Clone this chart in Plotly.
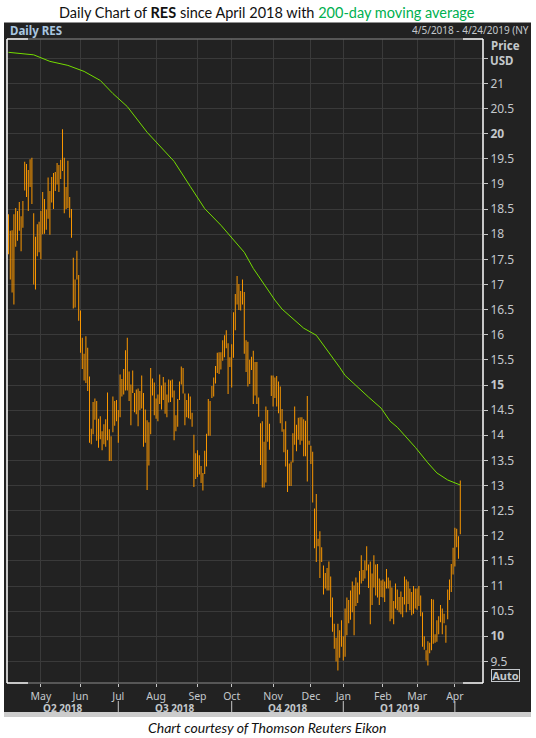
import plotly.graph_objects as go

WIDTH = 536
HEIGHT = 738
PLOT_LEFT = 7
PLOT_RIGHT = 483
PLOT_TOP = 38.5
PLOT_BOTTOM = 683

PANEL = "#222222"
GRID = "#3a3a3a"
LABEL = "#c4c8cc"
# a touch of alpha makes plotly round bar edges instead of growing them to 2px
ORANGE = "rgba(255,154,0,0.99)"
GREEN = "#74dc00"

# daily high / low in USD, one entry per session from 4/5/2018
highs = [
    18.40, 18.07, 18.08, 18.40, 18.52, 18.46, 18.64, 18.36, 18.66, 19.44,
    19.40, 19.28, 19.49, 19.52, 18.42, 17.95, 18.20, 18.25, 18.46, 18.84,
    18.70, 18.49, 19.13, 18.86, 19.14, 19.22, 19.24, 19.42, 19.38, 19.48,
    20.09, 19.52, 18.94, 19.46, 18.74, 18.50, 17.53, 17.10, 17.67, 17.19,
    16.48, 15.94, 15.62, 15.97, 15.74, 15.17, 14.13, 14.66, 14.73, 14.68,
    14.33, 14.38, 14.08, 14.22, 14.32, 14.85, 14.12, 13.98, 14.77, 14.68,
    14.70, 14.50, 15.21, 15.12, 15.32, 15.69, 15.94, 15.27, 15.01, 15.29,
    14.84, 14.91, 14.93, 14.88, 15.19, 14.84, 14.51, 14.30, 14.26, 15.34,
    15.13, 15.05, 14.73, 14.81, 15.21, 14.99, 15.16, 15.05, 14.81, 15.11,
    15.09, 15.11, 14.89, 14.40, 14.72, 15.07, 15.37, 15.34, 14.83, 14.70,
    14.83, 14.77, 14.45, 14.01, 13.64, 13.70, 13.60,
    13.39, 13.25, 13.69, 14.03, 14.72, 14.68, 14.98, 15.15, 15.38, 15.64,
    15.65, 15.65, 15.89, 15.99, 16.09, 15.83, 15.55, 15.81, 16.45, 16.81,
    17.17, 17.01, 16.87, 17.10, 16.85, 15.89, 15.86, 15.50, 15.56, 15.68,
    15.46, 15.46, 14.75, 14.24, 14.28, 13.87, 14.57, 14.50, 14.23, 15.19,
    15.19, 15.15, 15.18, 15.07, 14.97, 14.52, 14.12, 14.28, 13.71, 13.44,
    13.48, 14.04, 14.57, 14.21, 14.35, 14.36, 14.36, 14.32, 14.29, 14.78,
    13.89, 13.79, 13.67,
    12.54, 12.83, 11.94, 12.09, 11.77, 11.41, 11.26, 11.36, 11.49, 11.19,
    10.77, 10.25, 9.97, 10.25, 10.12, 10.32, 10.00, 10.55, 10.77, 10.72,
    10.91, 11.09, 11.01, 11.17, 11.07, 11.30, 11.61, 11.32, 11.51, 11.79,
    11.43, 11.49, 11.25, 11.61, 11.43, 11.44, 11.15, 11.11, 11.13, 11.09,
    11.34, 11.17, 11.11, 10.97, 10.70, 11.05, 10.93, 10.78, 10.89, 10.78,
    11.19, 11.13, 11.09, 10.95, 10.88, 11.00, 10.95, 10.95, 11.00, 10.81,
    10.48, 10.00, 9.72, 9.90, 9.87, 10.74, 10.73, 10.04, 10.32, 10.40,
    10.62, 10.55, 10.45, 10.22, 10.93, 11.13, 11.44, 11.76, 12.16, 12.14,
    11.99, 13.10,
]
lows = [
    17.60, 17.10, 16.84, 16.60, 17.75, 17.87, 18.07, 17.66, 18.13, 18.87,
    18.74, 18.46, 18.94, 18.60, 17.00, 16.90, 17.56, 17.64, 17.50, 18.00,
    18.01, 18.09, 18.31, 17.99, 18.63, 18.50, 18.86, 18.99, 18.84, 19.10,
    19.26, 18.42, 18.50, 18.52, 18.33, 17.93, 16.52, 16.54, 17.10, 16.28,
    15.64, 15.32, 15.09, 15.04, 14.88, 13.85, 13.82, 14.02, 14.31, 13.89,
    13.75, 13.92, 13.70, 13.82, 13.77, 13.90, 13.49, 13.49, 14.06, 14.19,
    14.28, 13.85, 14.36, 14.77, 14.81, 14.89, 14.89, 14.68, 14.20, 14.84,
    14.46, 14.42, 14.18, 14.50, 14.53, 13.77, 13.85, 12.91, 13.40, 14.02,
    14.79, 14.40, 14.33, 14.28, 14.62, 14.51, 14.70, 14.43, 14.36, 14.65,
    14.66, 14.75, 13.90, 14.08, 14.17, 14.70, 15.01, 14.83, 14.20, 14.36,
    14.34, 14.32, 14.17, 12.97, 13.13, 13.17, 13.22,
    13.05, 12.90, 13.23, 13.38, 13.99, 13.99, 14.74, 14.77, 15.03, 15.24,
    15.22, 15.31, 15.48, 15.55, 15.73, 14.82, 15.36, 14.95, 15.54, 16.09,
    16.60, 16.49, 16.48, 16.60, 15.62, 15.26, 14.97, 15.02, 15.30, 14.62,
    14.79, 14.62, 14.37, 13.41, 12.96, 12.96, 13.06, 13.87, 13.71, 14.78,
    14.57, 14.74, 14.57, 14.44, 14.24, 14.07, 13.66, 13.38, 12.87, 12.99,
    12.99, 13.46, 13.81, 13.68, 13.91, 13.81, 13.89, 13.58, 13.58, 13.08,
    13.81, 13.43, 12.66,
    11.75, 11.48, 11.79, 11.16, 11.48, 10.83, 10.95, 10.91, 10.91, 10.38,
    10.09, 9.75, 9.50, 9.32, 9.57, 9.79, 9.52, 9.59, 10.02, 10.26,
    10.33, 10.48, 10.02, 10.60, 10.66, 10.83, 11.05, 11.10, 11.15, 11.31,
    10.96, 10.24, 10.62, 10.97, 10.81, 10.77, 10.62, 10.78, 10.77, 10.68,
    10.95, 10.95, 10.30, 10.35, 10.24, 10.55, 10.52, 10.48, 10.44, 10.38,
    10.63, 10.48, 10.64, 10.52, 10.42, 10.45, 10.55, 10.53, 10.60, 10.40,
    9.79, 9.73, 9.52, 9.42, 9.66, 9.72, 9.85, 9.87, 9.89, 10.04,
    10.28, 10.04, 10.26, 9.87, 10.34, 10.72, 10.88, 11.23, 11.39, 11.77,
    11.54, 12.03,
]
sessions = list(range(len(highs)))

# 200-day average, read at a handful of sessions along the line
ma_sessions = [
    0, 14, 23, 33, 42, 51, 58, 66, 77, 86, 92, 101, 109, 118, 123, 131, 136, 142, 148,
    152, 158, 164, 171, 176, 184, 187, 196, 200, 207, 212, 216, 226, 233, 238, 244, 248, 251,
]
ma_values = [
    21.62, 21.57, 21.44, 21.36, 21.24, 21.06, 20.80, 20.54, 20.03, 19.67, 19.45, 18.95, 18.51,
    18.18, 17.98, 17.64, 17.32, 17.00, 16.69, 16.51, 16.31, 16.13, 15.99, 15.75, 15.35, 15.19,
    14.88, 14.76, 14.54, 14.28, 14.16, 13.76, 13.45, 13.25, 13.11, 13.05, 13.01,
]

month_sessions = [18, 40, 61, 82, 105, 124, 147, 168, 186, 208, 227, 248]
month_labels = ["May", "Jun", "Jul", "Aug", "Sep", "Oct", "Nov", "Dec", "Jan", "Feb", "Mar", "Apr"]

quarter_labels = ["Q2 2018", "Q3 2018", "Q4 2018", "Q1 2019"]
quarter_centers = [30, 92, 155, 217]
quarter_edges = [61, 124, 186, 248]

price_ticks = [9.5 + 0.5 * i for i in range(25)]
price_labels = [
    "" if p == 21.5 else f"<b>{p:g}</b>" if p % 5 == 0 else f"{p:g}" for p in price_ticks
]


def _px_x(px: float) -> float:
    return (px - PLOT_LEFT) / (PLOT_RIGHT - PLOT_LEFT)


def _px_y(py: float) -> float:
    return (PLOT_BOTTOM - py) / (PLOT_BOTTOM - PLOT_TOP)


def _rect(x0, y0, x1, y1, color, layer="below"):
    return dict(
        type="rect", xref="paper", yref="paper", layer=layer,
        x0=_px_x(x0), x1=_px_x(x1), y0=_px_y(y0), y1=_px_y(y1),
        fillcolor=color, line_width=0,
    )


def _line(x0, y0, x1, y1, color, width=1.5):
    return dict(
        type="line", xref="paper", yref="paper", layer="above",
        x0=_px_x(x0), x1=_px_x(x1), y0=_px_y(y0), y1=_px_y(y1),
        line=dict(color=color, width=width),
    )


def _text(px, py, text, size=12, color=LABEL, anchor="left", family="Noto Sans"):
    return dict(
        xref="paper", yref="paper", x=_px_x(px), y=_px_y(py), text=text, showarrow=False,
        xanchor=anchor, yanchor="middle", font=dict(size=size, color=color, family=family),
    )


shapes = [
    _rect(4, 22, 531, 712, PANEL),
    _rect(4, 712, 531, 717, "#cccccc"),
    _line(28, 38.5, 463, 38.5, "#6a6a6a"),
    _line(28, 683, 463, 683, "#6a6a6a"),
    _line(7, 38.5, 28, 38.5, "#ffffff"),
    _line(7, 38.5, 7, 683, "#ffffff"),
    _line(7, 683, 28, 683, "#ffffff"),
    _line(463, 38.5, 483, 38.5, "#ffffff"),
    _line(483, 38.5, 483, 683, "#ffffff"),
    _line(463, 683, 483, 683, "#ffffff"),
]
for edge in quarter_edges:
    shapes.append(
        dict(
            type="line", xref="x", yref="paper", layer="above", x0=edge, x1=edge,
            y0=_px_y(701), y1=_px_y(712), line=dict(color="#c8c8c8", width=1),
        )
    )

annotations = [
    _text(8, 29.5, "<b>Daily RES</b>", size=11.5, color="#a9c6e0"),
    _text(410, 29, "4/5/2018 - 4/24/2019 (NY", size=10, anchor="left"),
    _text(489, 45, "<b>Price</b>", size=11.5),
    _text(488, 60, "<b>USD</b>", size=11.5),
    _text(267, 12, 'Daily Chart of <b>RES</b> since April 2018 with '
          '<span style="color:#00b050">200-day moving average</span>',
          size=14.5, color="#111111", anchor="center", family="Lato"),
    _text(267, 728, "<i>Chart courtesy of Thomson Reuters Eikon</i>",
          size=14, color="#111111", anchor="center", family="Lato"),
    dict(
        xref="paper", yref="paper", x=_px_x(505), y=_px_y(675), text="<b>Auto</b>", showarrow=False,
        xanchor="center", yanchor="middle",
        font=dict(size=11, color=LABEL, family="Noto Sans"), bordercolor=LABEL, borderwidth=1,
        borderpad=0, width=27, height=11,
    ),
]
for label, center in zip(quarter_labels, quarter_centers):
    annotations.append(
        dict(
            xref="x", yref="paper", x=center, y=_px_y(708), text=f"<b>{label}</b>", showarrow=False,
            yanchor="middle", font=dict(size=10, color=LABEL, family="Noto Sans"),
        )
    )

fig = go.Figure()
fig.add_trace(
    go.Bar(
        x=sessions,
        y=[high - low for high, low in zip(highs, lows)],
        base=lows,
        width=0.55,
        marker=dict(color=ORANGE, line_width=0),
    )
)
fig.add_trace(
    go.Scatter(x=ma_sessions, y=ma_values, mode="lines", line=dict(color=GREEN, width=1))
)
fig.update_layout(
    width=WIDTH,
    height=HEIGHT,
    autosize=False,
    showlegend=False,
    paper_bgcolor="#ffffff",
    plot_bgcolor=PANEL,
    margin=dict(l=PLOT_LEFT, r=WIDTH - PLOT_RIGHT, t=PLOT_TOP, b=HEIGHT - PLOT_BOTTOM, pad=0),
    shapes=shapes,
    annotations=annotations,
    xaxis=dict(
        range=[-0.83, 263.62],
        tickmode="array",
        tickvals=month_sessions,
        ticktext=month_labels,
        ticks="outside",
        ticklen=3,
        tickcolor="#c8c8c8",
        tickfont=dict(size=10.5, color=LABEL, family="Noto Sans"),
        showgrid=True,
        gridcolor=GRID,
        zeroline=False,
        showline=False,
    ),
    yaxis=dict(
        side="right",
        range=[9.07, 21.885],
        tickmode="array",
        tickvals=price_ticks,
        ticktext=price_labels,
        ticks="outside",
        ticklen=4,
        tickcolor="#c8c8c8",
        tickfont=dict(size=12, color=LABEL, family="Noto Sans"),
        showgrid=True,
        gridcolor=GRID,
        zeroline=False,
        showline=False,
    ),
)
fig.write_html(
    "out.html",
    config={"displayModeBar": False},
    post_script="document.body.style.margin='0';",
)
